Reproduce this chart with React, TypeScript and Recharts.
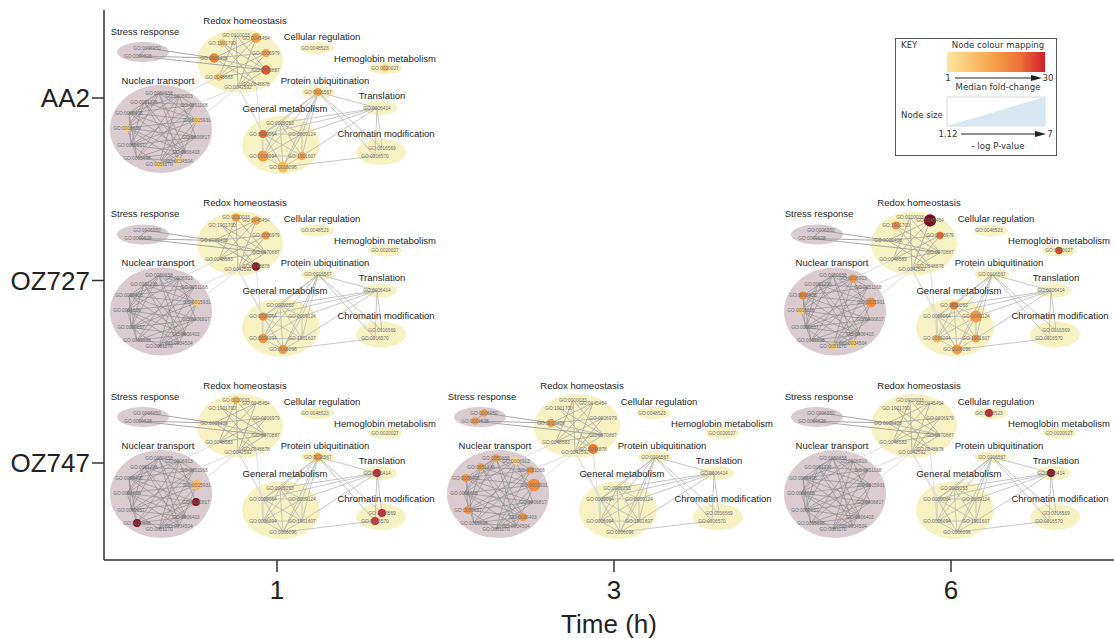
import React from 'react';
import { ScatterChart, Scatter, XAxis, YAxis, ReferenceLine, ReferenceDot } from 'recharts';

// ---------------- data ----------------
const strains = ['AA2', 'OZ727', 'OZ747'];
const times = ['1', '3', '6'];

const clusterNames = [
  'Stress response', 'Redox homeostasis', 'Nuclear transport', 'General metabolism',
  'Cellular regulation', 'Hemoglobin metabolism', 'Protein ubiquitination', 'Translation',
  'Chromatin modification',
];

const clusterTerms: Record<string, string[]> = {
  'Stress response': ['GO:0006950', 'GO:0009628'],
  'Redox homeostasis': ['GO:0010033', 'GO:0045454', 'GO:1901700', 'GO:0006979', 'GO:0009408', 'GO:0070887', 'GO:0048583', 'GO:0048878', 'GO:0042592'],
  'Nuclear transport': ['GO:0050658', 'GO:0006913', 'GO:0051236', 'GO:0051168', 'GO:0006405', 'GO:0015931', 'GO:0006606', 'GO:0006817', 'GO:0050657', 'GO:0006403', 'GO:0015698', 'GO:0034504', 'GO:0051170'],
  'General metabolism': ['GO:0009263', 'GO:0009064', 'GO:0009124', 'GO:0006094', 'GO:1901607', 'GO:0006096'],
  'Cellular regulation': ['GO:0048523'],
  'Hemoglobin metabolism': ['GO:0020027'],
  'Protein ubiquitination': ['GO:0016567'],
  'Translation': ['GO:0006414'],
  'Chromatin modification': ['GO:0016569', 'GO:0016570'],
};

// edges of the term network (shared by every panel)
const nuclearEdges = [
  '0050658-0006913', '0050658-0051236', '0050658-0006405', '0050658-0006606', '0050658-0050657', '0050658-0006403', '0050658-0034504', '0050658-0015931',
  '0006913-0051168', '0006913-0006405', '0006913-0006606', '0006913-0015698', '0006913-0051170', '0006913-0006817',
  '0051236-0051168', '0051236-0015931', '0051236-0006606', '0051236-0006403', '0051236-0034504', '0051236-0050657',
  '0051168-0006405', '0051168-0050657', '0051168-0015698', '0051168-0051170',
  '0006405-0015931', '0006405-0006817', '0006405-0006403', '0006405-0015698', '0006405-0050657',
  '0015931-0006606', '0015931-0050657', '0015931-0051170', '0015931-0034504',
  '0006606-0006817', '0006606-0006403', '0006606-0034504', '0006606-0015698',
  '0006817-0050657', '0006817-0015698', '0006817-0051170',
  '0050657-0006403', '0050657-0051170', '0006403-0015698', '0006403-0051170',
  '0015698-0034504', '0034504-0051170',
];
const redoxEdges = [
  '0010033-0070887', '0010033-0048583', '0010033-0042592', '0045454-0009408', '0045454-0048583', '0045454-0042592',
  '1901700-0070887', '1901700-0048878', '0006979-0009408', '0006979-0042592', '0009408-0070887', '0009408-0048878',
  '0048583-0070887', '0048583-0006979', '0070887-0042592',
];
const stressEdges = ['0006950-0009628', '0006950-0009408', '0009628-0009408', '0009628-0070887'];
const metabolismEdges = [
  '0009263-0009064', '0009263-0009124', '0009263-0006094', '0009263-1901607', '0009263-0006096',
  '0009064-0009124', '0009064-0006094', '0009064-1901607', '0009064-0006096',
  '0009124-0006094', '0009124-1901607', '0009124-0006096',
  '0006094-1901607', '0006094-0006096', '1901607-0006096',
  '0016567-0009064', '0016567-0009124', '0016567-0006094', '0016567-0006096', '0016567-1901607', '0016567-0009263',
  '0006414-0009064', '0006414-0009263', '0006414-0009124', '0006414-1901607',
  '0016567-0006414', '0016567-0016569', '0016567-0016570', '0006414-0016569', '0006414-0016570', '0006096-0016570',
];
const faintEdges = [
  '0015931-0042592', '0051168-0042592', '0006913-0048583',
  '0042592-0009064', '0048878-0006094', '0042592-0006096',
];

// per panel: [term, median fold-change, -log P-value]
type V = [string, number, number];
const aa2_1h: V[] = [
  ['GO:1901700', 6, 2.1], ['GO:0045454', 11, 4.0], ['GO:0006979', 10, 2.6], ['GO:0009408', 16, 3.6],
  ['GO:0070887', 23, 3.6], ['GO:0048583', 6, 2.1], ['GO:0006606', 4, 1.6], ['GO:0015931', 5, 2.2],
  ['GO:0051170', 4.5, 1.9], ['GO:0034504', 4.5, 1.9], ['GO:0009064', 20, 2.6], ['GO:0006094', 12, 4.8],
  ['GO:0006096', 7, 4.8], ['GO:1901607', 10, 2.6], ['GO:0020027', 6, 1.9], ['GO:0016567', 11, 2.6],
];
const oz727_1h: V[] = [
  ['GO:0010033', 12, 2.6], ['GO:0045454', 10, 3.0], ['GO:0006979', 12, 2.6], ['GO:0048878', 45, 3.0],
  ['GO:0015931', 5, 1.9], ['GO:0009064', 14, 2.6], ['GO:0006094', 13, 3.6], ['GO:0006096', 12, 3.6],
];
const oz727_6h: V[] = [
  ['GO:1901700', 14, 2.6], ['GO:0045454', 55, 5.8], ['GO:0006979', 19, 2.1], ['GO:0006913', 12, 2.6],
  ['GO:0006405', 15, 2.6], ['GO:0015931', 14, 4.0], ['GO:0006606', 5, 2.2], ['GO:0051170', 5, 2.1],
  ['GO:0034504', 5, 2.1], ['GO:0009263', 17, 2.6], ['GO:0009124', 12, 5.5], ['GO:0006094', 8, 2.6],
  ['GO:1901607', 12, 2.6], ['GO:0006096', 12, 4.0], ['GO:0020027', 25, 2.1],
];
const oz747_1h: V[] = [
  ['GO:0010033', 8, 2.1], ['GO:0015931', 7, 4.0], ['GO:0006817', 45, 2.6], ['GO:0015698', 45, 2.6],
  ['GO:0016567', 12, 2.6], ['GO:0006414', 31, 2.6], ['GO:0016569', 30, 2.6], ['GO:0016570', 28, 2.6],
];
const oz747_3h: V[] = [
  ['GO:0006950', 12, 2.1], ['GO:0009628', 12, 2.1], ['GO:0009408', 12, 2.6], ['GO:0048878', 17, 4.0],
  ['GO:0050658', 12, 2.1], ['GO:0006913', 3.5, 2.6], ['GO:0051236', 12, 2.1], ['GO:0051168', 12, 2.1],
  ['GO:0006405', 13, 2.6], ['GO:0015931', 14, 5.9], ['GO:0050657', 13, 2.6], ['GO:0006403', 13, 2.6],
];
const oz747_6h: V[] = [['GO:0048523', 30, 2.6], ['GO:0006414', 50, 2.6]];

const panelList = [
  { strain: 'AA2', time: '1', values: aa2_1h },
  { strain: 'OZ727', time: '1', values: oz727_1h },
  { strain: 'OZ727', time: '6', values: oz727_6h },
  { strain: 'OZ747', time: '1', values: oz747_1h },
  { strain: 'OZ747', time: '3', values: oz747_3h },
  { strain: 'OZ747', time: '6', values: oz747_6h },
];

// ---------------- network layout (offsets in px from panel anchor) ----------------
const CLUSTER_LAYOUT: Record<string, { cx: number; cy: number; rx: number; ry: number; lx: number; ly: number; tone: string }> = {
  'Stress response': { cx: -134, cy: -46, rx: 26, ry: 10, lx: -132, ly: -67, tone: 'mauve' },
  'Redox homeostasis': { cx: -37, cy: -37, rx: 43, ry: 32, lx: -32, ly: -78, tone: 'yellow' },
  'Nuclear transport': { cx: -116, cy: 31, rx: 51, ry: 44, lx: -119, ly: -18, tone: 'mauve' },
  'General metabolism': { cx: 4, cy: 47, rx: 39, ry: 29, lx: 8, ly: 10, tone: 'yellow' },
  'Cellular regulation': { cx: 40, cy: -50, rx: 17, ry: 6, lx: 45, ly: -62, tone: 'yellow' },
  'Hemoglobin metabolism': { cx: 108, cy: -30, rx: 17, ry: 6, lx: 108, ly: -40, tone: 'yellow' },
  'Protein ubiquitination': { cx: 41, cy: -6, rx: 17, ry: 6, lx: 48, ly: -18, tone: 'yellow' },
  'Translation': { cx: 103, cy: 10, rx: 17, ry: 7, lx: 105, ly: -3, tone: 'yellow' },
  'Chromatin modification': { cx: 104, cy: 54, rx: 25, ry: 13, lx: 109, ly: 35, tone: 'yellow' },
};
const NODE_LAYOUT: Record<string, [number, number]> = {
  'GO:0006950': [-130, -50], 'GO:0009628': [-139, -42],
  'GO:0010033': [-41, -63], 'GO:0045454': [-21, -60], 'GO:1901700': [-55, -55], 'GO:0006979': [-11, -45],
  'GO:0009408': [-63, -40], 'GO:0070887': [-11, -28], 'GO:0048583': [-58, -21], 'GO:0048878': [-21, -14],
  'GO:0042592': [-39, -11],
  'GO:0050658': [-118, -5], 'GO:0006913': [-98, -2], 'GO:0051236': [-133, 4], 'GO:0051168': [-83, 7],
  'GO:0006405': [-148, 15], 'GO:0015931': [-80, 22], 'GO:0006606': [-150, 30], 'GO:0006817': [-81, 39],
  'GO:0050657': [-146, 47], 'GO:0006403': [-91, 54], 'GO:0015698': [-140, 60], 'GO:0034504': [-98, 63],
  'GO:0051170': [-118, 66],
  'GO:0009263': [3, 25], 'GO:0009064': [-14, 36], 'GO:0009124': [25, 36], 'GO:0006094': [-14, 58],
  'GO:1901607': [25, 58], 'GO:0006096': [6, 69],
  'GO:0048523': [38, -50], 'GO:0020027': [108, -30], 'GO:0016567': [41, -6], 'GO:0006414': [100, 10],
  'GO:0016569': [105, 50], 'GO:0016570': [98, 58],
};

// ---------------- scales helpers ----------------
const X_DOMAIN: [number, number] = [-0.5134, 2.4837];
const Y_DOMAIN: [number, number] = [-0.4822, 2.5315];
const PLOT_W = 1010;
const PLOT_H = 550;
const PX_X = PLOT_W / (X_DOMAIN[1] - X_DOMAIN[0]);
const PX_Y = PLOT_H / (Y_DOMAIN[1] - Y_DOMAIN[0]);
const toData = (ti: number, si: number, dx: number, dy: number) => ({ x: ti + dx / PX_X, y: si + dy / PX_Y });

const colourStops: [number, string][] = [
  [1, '#fde7a0'], [5, '#fbcb68'], [10, '#f6a64c'], [15, '#ef883a'], [20, '#e6692e'],
  [25, '#da4a2a'], [30, '#c92530'], [45, '#8a1424'], [60, '#6e0c1c'],
];
const hex = (h: string) => [1, 3, 5].map((i) => parseInt(h.slice(i, i + 2), 16));
function colourOf(fc: number) {
  for (let i = 0; i < colourStops.length - 1; i++) {
    const [a, ca] = colourStops[i];
    const [b, cb] = colourStops[i + 1];
    if (fc <= b) {
      const t = Math.max(0, (fc - a) / (b - a));
      const A = hex(ca), B = hex(cb);
      return `rgb(${A.map((v, k) => Math.round(v + (B[k] - v) * t)).join(',')})`;
    }
  }
  return colourStops[colourStops.length - 1][1];
}
const radiusOf = (lp: number) => 3 + ((lp - 1.12) / (7 - 1.12)) * 4;

// ---------------- derived series ----------------
const panels = panelList.map((p) => ({ ...p, si: strains.indexOf(p.strain), ti: times.indexOf(p.time) }));

const nodeData = panels.flatMap((p) =>
  p.values.map(([term, fc, lp]) => ({ ...toData(p.ti, p.si, NODE_LAYOUT[term][0], NODE_LAYOUT[term][1]), term, fc, lp }))
);
const termLabelData = panels.flatMap((p) =>
  clusterNames.flatMap((c) => clusterTerms[c].map((term) => ({ ...toData(p.ti, p.si, NODE_LAYOUT[term][0], NODE_LAYOUT[term][1]), text: term })))
);
const clusterLabelData = panels.flatMap((p) =>
  clusterNames.map((c) => ({ ...toData(p.ti, p.si, CLUSTER_LAYOUT[c].lx, CLUSTER_LAYOUT[c].ly), text: c }))
);
const ellipseData = panels.flatMap((p) =>
  clusterNames.map((c) => ({ ...toData(p.ti, p.si, CLUSTER_LAYOUT[c].cx, CLUSTER_LAYOUT[c].cy), name: c }))
);

const edgeGroups = [
  { edges: faintEdges, stroke: '#dedede', width: 1 },
  { edges: metabolismEdges, stroke: '#b9b9b9', width: 0.8 },
  { edges: redoxEdges, stroke: '#a9a9a9', width: 0.8 },
  { edges: stressEdges, stroke: '#9d9d9d', width: 0.9 },
  { edges: nuclearEdges, stroke: '#8a8a8a', width: 0.6 },
];
const edgeData = panels.flatMap((p, pi) =>
  edgeGroups.flatMap((g, gi) =>
    g.edges.map((e, ei) => {
      const [a, b] = e.split('-').map((s) => 'GO:' + s);
      return {
        key: `${pi}-${gi}-${ei}`,
        p1: toData(p.ti, p.si, NODE_LAYOUT[a][0], NODE_LAYOUT[a][1]),
        p2: toData(p.ti, p.si, NODE_LAYOUT[b][0], NODE_LAYOUT[b][1]),
        stroke: g.stroke,
        width: g.width,
      };
    })
  )
);

const FONT = '"Liberation Sans", Arial, sans-serif';

const NodeShape = (props: any) => {
  const d = props.payload;
  if (props.cx == null || !d) return null;
  return <circle cx={props.cx} cy={props.cy} r={radiusOf(d.lp)} fill={colourOf(d.fc)} />;
};
const TermLabelShape = (props: any) => {
  if (props.cx == null || !props.payload) return null;
  return (
    <text x={props.cx} y={props.cy} textAnchor="middle" dominantBaseline="central" fontSize={4.8} fill="#6e6e6e" fontFamily={FONT}>
      {props.payload.text}
    </text>
  );
};
const ClusterLabelShape = (props: any) => {
  if (props.cx == null || !props.payload) return null;
  return (
    <text x={props.cx} y={props.cy} textAnchor="middle" dominantBaseline="central" fontSize={9.5} fill="#1e1e1e" fontFamily={FONT}>
      {props.payload.text}
    </text>
  );
};

function Key() {
  const t = { fontFamily: '"DejaVu Sans", Verdana, sans-serif', fontSize: 8.6, fill: '#333' } as const;
  return (
    <svg width={164} height={120} style={{ position: 'absolute', left: 895, top: 38 }}>
      <defs>
        <linearGradient id="fcGrad" x1="0" x2="1" y1="0" y2="0">
          <stop offset="0" stopColor="#fde79f" />
          <stop offset="0.45" stopColor="#f7a54a" />
          <stop offset="0.75" stopColor="#ec6f35" />
          <stop offset="1" stopColor="#d01f2e" />
        </linearGradient>
      </defs>
      <rect x={0.5} y={0.5} width={161} height={117} fill="#fff" stroke="#555" strokeWidth={1} />
      <text x={6} y={10} {...t}>KEY</text>
      <text x={103} y={10} textAnchor="middle" {...t}>Node colour mapping</text>
      <rect x={52} y={14} width={98} height={20} fill="url(#fcGrad)" />
      <text x={53} y={43} textAnchor="middle" {...t}>1</text>
      <line x1={60} y1={40} x2={140} y2={40} stroke="#222" strokeWidth={1} />
      <polygon points="136,37 147,40 136,43" fill="#222" />
      <text x={153} y={43} textAnchor="middle" {...t}>30</text>
      <text x={103} y={52} textAnchor="middle" {...t}>Median fold-change</text>
      <rect x={52} y={59} width={98} height={29} fill="none" stroke="#d0d0d0" strokeWidth={0.8} />
      <polygon points="52,88 150,88 150,59" fill="#d9e7f0" />
      <text x={6} y={80} {...t}>Node size</text>
      <text x={53} y={99} textAnchor="middle" {...t}>1.12</text>
      <line x1={66} y1={96} x2={144} y2={96} stroke="#222" strokeWidth={1} />
      <polygon points="140,93 151,96 140,99" fill="#222" />
      <text x={155} y={99} textAnchor="middle" {...t}>7</text>
      <text x={103} y={111} textAnchor="middle" {...t}>- log P-value</text>
    </svg>
  );
}

export default function App() {
  return (
    <div style={{ position: 'absolute', left: 0, top: 0, width: 1114, height: 639, fontFamily: FONT, background: '#fff' }}>
      <ScatterChart width={1114} height={639} margin={{ top: 10, right: 0, bottom: 0, left: 0 }}>
        <XAxis
          type="number"
          dataKey="x"
          domain={X_DOMAIN}
          allowDataOverflow
          ticks={[0, 1, 2]}
          tickFormatter={(v: number) => times[Math.round(v)]}
          height={79}
          tickSize={12}
          tickMargin={9}
          tick={{ fontSize: 26, fill: '#222', fontFamily: FONT }}
          axisLine={{ stroke: '#333', strokeWidth: 1.5 }}
          tickLine={{ stroke: '#333', strokeWidth: 1.5 }}
          label={{ value: 'Time (h)', position: 'insideBottom', offset: 6, fontSize: 26, fill: '#222', fontFamily: FONT }}
        />
        <YAxis
          type="number"
          dataKey="y"
          domain={Y_DOMAIN}
          allowDataOverflow
          reversed
          ticks={[0, 1, 2]}
          tickFormatter={(v: number) => strains[Math.round(v)]}
          width={104}
          tickSize={12}
          tickMargin={2}
          tick={{ fontSize: 26, fill: '#222', fontFamily: FONT }}
          axisLine={{ stroke: '#333', strokeWidth: 1.5 }}
          tickLine={{ stroke: '#333', strokeWidth: 1.5 }}
        />
        {ellipseData.map((e, i) => {
          const c = CLUSTER_LAYOUT[e.name];
          const fill = c.tone === 'mauve' ? '#d9cbcf' : '#f7f2c2';
          return (
            <ReferenceDot
              key={'el' + i}
              x={e.x}
              y={e.y}
              r={1}
              zIndex={50}
              shape={(p: any) => <ellipse cx={p.cx} cy={p.cy} rx={c.rx} ry={c.ry} fill={fill} stroke="none" />}
            />
          );
        })}
        {edgeData.map((e) => (
          <ReferenceLine key={e.key} segment={[e.p1, e.p2]} stroke={e.stroke} strokeWidth={e.width} zIndex={60} />
        ))}
        <Scatter data={nodeData} shape={NodeShape} isAnimationActive={false} zIndex={700} />
        <Scatter data={termLabelData} shape={TermLabelShape} isAnimationActive={false} zIndex={710} />
        <Scatter data={clusterLabelData} shape={ClusterLabelShape} isAnimationActive={false} zIndex={720} />
      </ScatterChart>
      <Key />
    </div>
  );
}
